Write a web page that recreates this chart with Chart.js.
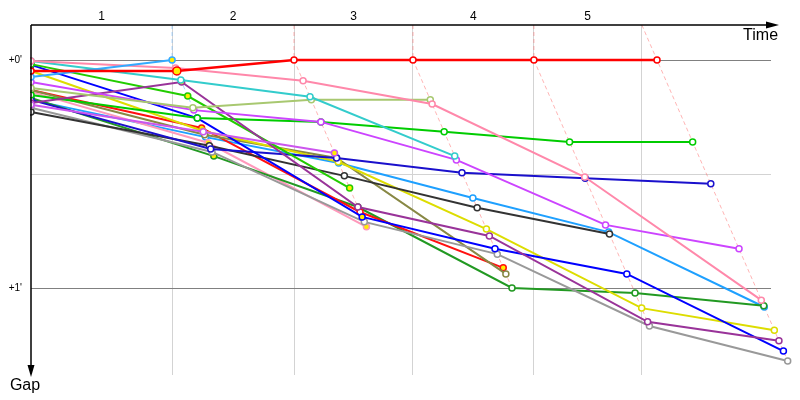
<!DOCTYPE html>
<html>
<head>
<meta charset="utf-8">
<script src="https://cdn.jsdelivr.net/npm/chart.js@4.4.0/dist/chart.umd.min.js"></script>
<style>
  body { margin: 0; background: #fff; }
  #wrap { width: 800px; height: 400px; }
</style>
</head>
<body>
<div id="wrap"><canvas id="gapChart"></canvas></div>
<script>
// lap labels, lap boundaries (s) and the leader's crossing time per lap (s)
const lapLabels = ['1', '2', '3', '4', '5'];
const lapEnds = [85.5, 159.4, 231.5, 304.8, 369.7];
const leaderTimes = [0, 85.5, 159.4, 231.5, 304.8, 379.4];

// gap to leader (s) at start and after each lap
const red        = [2.9, 2.9, 0, 0, 0, 0];
const skyBlue    = [4.5, 0];
const dodger     = [10.5, 20.3, 27.1, 36.3, 45.3, 65.0];
const pink       = [0.3, 2.1, 5.5, 11.6, 30.8, 63.2];
const cyan       = [0.3, 5.3, 9.7, 25.3];
const lightGreen = [7.4, 12.6, 10.5, 10.5];
const magenta    = [5.8, 13.2, 16.3, 26.3, 43.4, 49.7];
const violet     = [11.8, 18.9, 24.5];
const purple     = [11.3, 5.8, 38.7, 46.3, 68.9, 73.9];
const lime       = [1.1, 9.5, 33.7];
const green      = [9.2, 15.3, 16.3, 18.9, 21.6, 21.6];
const blue       = [1.3, 15.3, 41.3, 49.7, 56.3, 76.6];
const navy       = [10.5, 23.4, 25.8, 29.7, 31.1, 32.6];
const black      = [13.7, 22.6, 30.5, 38.9, 45.8];
const gray       = [12.6, 24.2, 42.6, 51.1, 70.0, 79.2];
const yellow     = [2.9, 18.7, 26.8, 44.5, 65.3, 71.1];
const olive      = [7.9, 19.7, 25.8, 56.3];
const red2       = [7.9, 17.9, 40.0, 54.7];
const darkGreen  = [10.0, 25.3, 38.7, 60.0, 61.3, 64.7];
const pink2      = [8.4, 21.8, 43.9];

// laps where the marker is highlighted
const highlight = {
  red: [1], skyBlue: [1], dodger: [2], purple: [1], lime: [1, 2], blue: [1, 2],
  violet: [2], red2: [1, 3], darkGreen: [1, 2], pink2: [1, 2], yellow: [1]
};

const yMin = -9.2, yMax = 82.9;
const gapTicks = [0, 30, 60];
const timeEnd = 448.5;

const drivers = [
  ['red', red, '#ff0000'], ['skyBlue', skyBlue, '#33aaff'], ['pink', pink, '#ff88aa'],
  ['cyan', cyan, '#33cccc'], ['lightGreen', lightGreen, '#a8c870'], ['magenta', magenta, '#cc44ff'],
  ['violet', violet, '#cc55ee'], ['purple', purple, '#993399'], ['lime', lime, '#22cc00'],
  ['green', green, '#00cc00'], ['blue', blue, '#0000ff'], ['navy', navy, '#1a10cc'],
  ['black', black, '#333333'], ['gray', gray, '#999999'], ['yellow', yellow, '#dddd00'],
  ['olive', olive, '#888844'], ['red2', red2, '#ff1010'], ['darkGreen', darkGreen, '#229922'],
  ['pink2', pink2, '#ff99bb'], ['dodger', dodger, '#1ea0ff']
];

const clipArea = { left: 1, top: 5, right: 5, bottom: 5 };

const datasets = drivers.map(([name, gaps, color]) => ({
  data: gaps.map((g, i) => ({ x: i === 0 ? 0 : leaderTimes[i] + g, y: g })),
  borderColor: color,
  borderWidth: name === 'red' ? 2.5 : 2,
  pointRadius: gaps.map((g, i) => name === 'red' && i === 1 ? 4 : 3),
  pointBorderWidth: 1.5,
  pointBorderColor: color,
  pointBackgroundColor: gaps.map((g, i) => (highlight[name] || []).includes(i) ? '#ffee00' : '#ffffff'),
  tension: 0,
  clip: clipArea,
  order: 1
}));

// dashed lap lines: leader time + gap
for (let i = 1; i < leaderTimes.length; i++) {
  const t = leaderTimes[i];
  const G = Math.max(...drivers.filter(d => d[1].length > i).map(d => d[1][i]));
  const pts = i < leaderTimes.length - 1
    ? [{ x: t, y: yMin }, { x: t, y: 0 }, { x: t + G, y: G }]
    : [{ x: t + yMin, y: yMin }, { x: t + G, y: G }];
  datasets.push({
    data: pts,
    borderColor: i === 1 ? 'rgba(100,180,255,0.55)' : 'rgba(255,90,90,0.45)',
    borderWidth: 1,
    borderDash: [4, 3],
    pointRadius: 0,
    clip: clipArea,
    order: 5
  });
}

const lapMids = lapEnds.map((e, i) => ((i === 0 ? 0 : lapEnds[i - 1]) + e) / 2);

// horizontal gap lines stop at the end of the time axis
const gapLines = {
  id: 'gapLines',
  beforeDatasetsDraw(chart) {
    const { ctx, chartArea: a, scales } = chart;
    const xEnd = scales.x.getPixelForValue(timeEnd);
    ctx.save();
    ctx.lineWidth = 1;
    gapTicks.forEach(v => {
      const y = Math.round(scales.y.getPixelForValue(v)) + 0.5;
      ctx.strokeStyle = v === 30 ? '#d3d3d3' : '#808080';
      ctx.beginPath();
      ctx.moveTo(a.left, y);
      ctx.lineTo(xEnd, y);
      ctx.stroke();
    });
    ctx.restore();
  }
};

const axisArrows = {
  id: 'axisArrows',
  afterDraw(chart) {
    const { ctx, chartArea: a, scales } = chart;
    const xEnd = scales.x.getPixelForValue(timeEnd);
    ctx.save();
    ctx.strokeStyle = '#000';
    ctx.fillStyle = '#000';
    ctx.lineWidth = 1.5;
    ctx.beginPath();
    ctx.moveTo(a.left, a.top);
    ctx.lineTo(xEnd + 2, a.top);
    ctx.moveTo(a.left, a.top);
    ctx.lineTo(a.left, a.bottom - 6);
    ctx.stroke();
    ctx.beginPath();
    ctx.moveTo(xEnd - 5, a.top - 3.5);
    ctx.lineTo(xEnd + 8, a.top);
    ctx.lineTo(xEnd - 5, a.top + 3.5);
    ctx.fill();
    ctx.beginPath();
    ctx.moveTo(a.left - 3.5, a.bottom - 10);
    ctx.lineTo(a.left, a.bottom + 2);
    ctx.lineTo(a.left + 3.5, a.bottom - 10);
    ctx.fill();
    ctx.font = '16px "Liberation Sans", Arial, sans-serif';
    ctx.textBaseline = 'alphabetic';
    ctx.textAlign = 'right';
    ctx.fillText('Time', xEnd + 7, a.top + 15);
    ctx.textAlign = 'center';
    ctx.fillText('Gap', a.left - 6, a.bottom + 15);
    ctx.restore();
  }
};

new Chart(document.getElementById('gapChart'), {
  type: 'line',
  data: { datasets },
  plugins: [gapLines, axisArrows],
  options: {
    responsive: true,
    maintainAspectRatio: false,
    animation: false,
    layout: { padding: { top: 0, right: 10, bottom: 25, left: 0 } },
    plugins: { legend: { display: false }, tooltip: { enabled: false } },
    scales: {
      x: {
        type: 'linear',
        position: 'top',
        min: 0,
        max: 460,
        afterBuildTicks: s => {
          s.ticks = [...lapEnds, ...lapMids].sort((a, b) => a - b).map(v => ({ value: v }));
        },
        afterFit: s => { s.height = 25; },
        ticks: {
          autoSkip: false,
          maxRotation: 0,
          padding: 1,
          color: '#000',
          font: { family: '"Liberation Sans", Arial, sans-serif', size: 12 },
          callback: v => {
            const i = lapMids.findIndex(m => Math.abs(m - v) < 0.01);
            return i >= 0 ? lapLabels[i] : '';
          }
        },
        grid: {
          drawTicks: false,
          color: c => lapEnds.some(e => Math.abs(e - c.tick.value) < 0.01) ? '#d3d3d3' : 'rgba(0,0,0,0)'
        },
        border: { display: false }
      },
      y: {
        type: 'linear',
        reverse: true,
        min: yMin,
        max: yMax,
        afterBuildTicks: s => { s.ticks = gapTicks.map(v => ({ value: v })); },
        afterFit: s => { s.width = 31; },
        ticks: {
          padding: 9,
          color: '#000',
          font: { family: '"Liberation Sans", Arial, sans-serif', size: 10 },
          callback: v => v === 0 ? "+0'" : v === 60 ? "+1'" : ''
        },
        grid: { drawTicks: false, color: 'rgba(0,0,0,0)' },
        border: { display: false }
      }
    }
  }
});
</script>
</body>
</html>
